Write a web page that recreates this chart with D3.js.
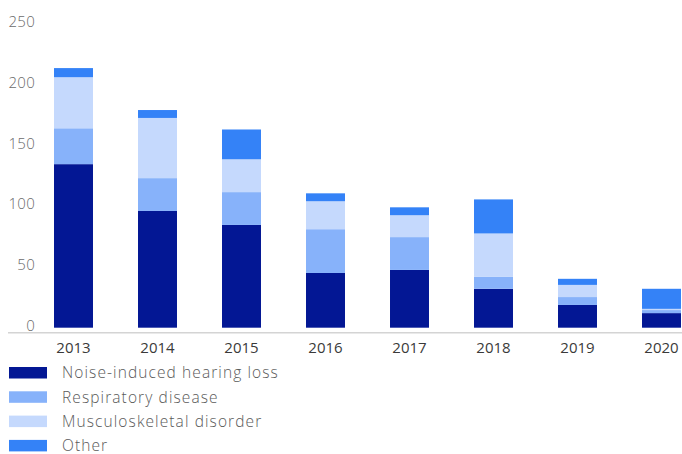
<!DOCTYPE html>
<html>
<head>
<meta charset="utf-8">
<script src="https://cdn.jsdelivr.net/npm/d3@7"></script>
<style>
  html, body { margin: 0; padding: 0; background: #fff; }
  svg { display: block; }
  text { font-family: "Open Sans", "DejaVu Sans", sans-serif; }
</style>
</head>
<body>
<svg id="chart" width="682" height="454"></svg>
<script>
// Occupational disease cases by year and type
const years = ["2013", "2014", "2015", "2016", "2017", "2018", "2019", "2020"];
const noiseHearingLoss = [134.5, 96, 84.5, 45, 47.5, 32, 18.7, 12];
const respiratoryDisease = [29.5, 27, 27, 36, 27, 10, 6.5, 2.5];
const musculoskeletal = [42, 49.5, 27, 23, 18, 35.5, 10, 1];
const other = [7.5, 6.5, 24.5, 6.5, 6.5, 28, 5, 16.5];
const seriesNames = ["Noise-induced hearing loss", "Respiratory disease", "Musculoskeletal disorder", "Other"];
const seriesColors = ["#031794", "#87b2fa", "#c5d9fd", "#3482f7"];
const yTicks = [0, 50, 100, 150, 200, 250];

const rows = years.map((y, i) => ({
  year: y,
  s0: noiseHearingLoss[i],
  s1: respiratoryDisease[i],
  s2: musculoskeletal[i],
  s3: other[i]
}));
const keys = ["s0", "s1", "s2", "s3"];
const stacked = d3.stack().keys(keys)(rows);

const svg = d3.select("#chart");

const x = d3.scaleBand()
  .domain(years)
  .range([31.5, 703.5])
  .paddingInner(0.536)
  .paddingOuter(0.268);

const y = d3.scaleLinear()
  .domain([0, 250])
  .range([327.7, 23.7]);

// y-axis tick labels
svg.append("g")
  .selectAll("text")
  .data(yTicks)
  .join("text")
  .attr("x", 35)
  .attr("y", d => y(d) - 2)
  .attr("dy", "0.35em")
  .attr("text-anchor", "end")
  .attr("fill", "#6b6b6b")
  .attr("font-size", 15)
  .attr("font-weight", 300)
  .attr("letter-spacing", 0.3)
  .text(d => d);

// stacked bars
svg.append("g")
  .selectAll("g")
  .data(stacked)
  .join("g")
  .attr("fill", (d, i) => seriesColors[i])
  .selectAll("rect")
  .data(d => d)
  .join("rect")
  .attr("x", d => x(d.data.year))
  .attr("width", x.bandwidth())
  .attr("y", d => y(d[1]))
  .attr("height", d => y(d[0]) - y(d[1]));

// baseline
svg.append("line")
  .attr("x1", 8).attr("x2", 682)
  .attr("y1", 332.8).attr("y2", 332.8)
  .attr("stroke", "#d4d4d4")
  .attr("stroke-width", 1.5);

// x-axis labels
svg.append("g")
  .selectAll("text")
  .data(years)
  .join("text")
  .attr("x", d => x(d) + x.bandwidth() / 2)
  .attr("y", 353)
  .attr("text-anchor", "middle")
  .attr("fill", "#3a3a3a")
  .attr("font-size", 15)
  .text(d => d);

// legend
const legend = svg.append("g")
  .selectAll("g")
  .data(seriesNames)
  .join("g")
  .attr("transform", (d, i) => `translate(9, ${367 + i * 24.3})`);

legend.append("rect")
  .attr("width", 38)
  .attr("height", 11.5)
  .attr("fill", (d, i) => seriesColors[i]);

legend.append("text")
  .attr("x", 53)
  .attr("y", 6)
  .attr("dy", "0.35em")
  .attr("fill", "#5a5a5a")
  .attr("font-size", 15.5)
  .attr("font-weight", 300)
  .attr("letter-spacing", 1.1)
  .text(d => d);
</script>
</body>
</html>
